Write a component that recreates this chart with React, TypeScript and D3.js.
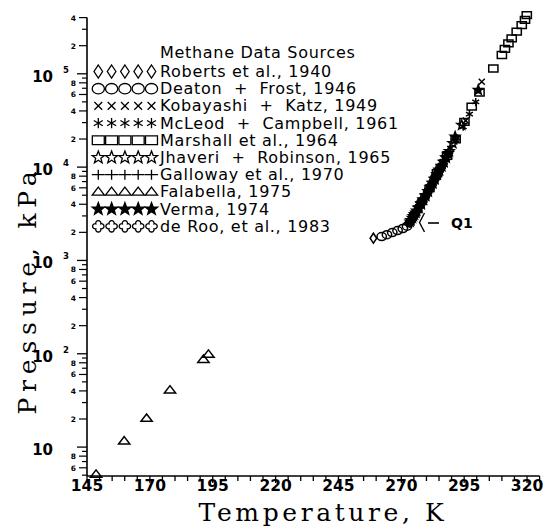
import React from "react";
import * as d3 from "d3";

const W = 549;
const H = 532;

// ---- tick labels ----
const xTickValues = [145, 150, 155, 160, 165, 170, 175, 180, 185, 190, 195, 200, 205, 210, 215, 220, 225, 230, 235, 240, 245, 250, 255, 260, 265, 270, 275, 280, 285, 290, 295, 300, 305, 310, 315, 320, 325];
const xTickLabels = [145, 170, 195, 220, 245, 270, 295, 320];
const yDecades = [10, 100, 1000, 10000, 100000];
const yDecadeExp = ["", "2", "3", "4", "5"];
const yMinorBases = [1, 10, 100, 1000, 10000, 100000];
const yMinorMult = [2, 3, 4, 5, 6, 7, 8, 9];
const yMinorLabeled = [2, 4, 6, 8];

// ---- data: [Temperature K, Pressure kPa] ----
const roberts: [number, number][] = [[258.9, 1730], [273.7, 2620], [277.3, 3850], [280.5, 5450], [283.7, 7900]];
const deaton: [number, number][] = [[262.2, 1800], [264.3, 1890], [266.4, 1990], [268.5, 2090], [270.6, 2200], [272.3, 2330], [275.1, 3100], [278.1, 4250], [281.2, 5950], [283.6, 7800], [285.6, 9900]];
const kobayashi: [number, number][] = [[274.5, 3000], [276.5, 3600], [277.8, 4150], [279.2, 4850], [281.0, 5650], [282.7, 7000], [284.1, 8500], [285.3, 9500], [286.3, 10800], [287.5, 12200], [288.4, 13600], [291.1, 18800], [295.6, 31500], [302.0, 82000]];
const mcleod: [number, number][] = [[274.2, 2950], [276.9, 3800], [278.5, 4500], [280.0, 5300], [282.0, 6600], [283.5, 7700], [285.0, 9000], [286.6, 11600], [288.0, 13400], [289.6, 16000], [292.1, 20500], [294.6, 27000], [297.1, 37000], [299.6, 50000]];
const marshall: [number, number][] = [[284.2, 8600], [288.2, 13200], [291.6, 19800], [295.1, 30500], [298.0, 44400], [301.1, 63000], [306.6, 114000], [310.0, 159000], [311.2, 185000], [312.6, 212000], [313.9, 240000], [315.9, 283000], [317.9, 333000], [319.2, 378000], [319.9, 425000]];
const jhaveri: [number, number][] = [[273.5, 2600], [274.4, 2850], [275.2, 3100], [276.1, 3400], [277.0, 3700], [277.9, 4100], [278.8, 4500], [279.7, 5000], [280.6, 5500], [281.5, 6100], [282.4, 6700], [283.3, 7500], [284.2, 8300], [285.1, 9200], [286.0, 10200], [286.9, 11400], [287.8, 12600], [289.1, 14800], [290.5, 18000], [294.0, 28300]];
const galloway: [number, number][] = [[273.2, 2480], [274.0, 2750], [274.9, 3000], [276.1, 3350], [277.1, 3750], [278.2, 4200], [279.3, 4700], [280.3, 5200], [281.2, 5800], [282.1, 6400], [283.0, 7150], [283.9, 8000], [284.8, 8900], [285.7, 9900], [286.5, 10900], [287.2, 11800], [288.0, 12900], [288.7, 14100]];
const falabella: [number, number][] = [[148.6, 5.1], [159.8, 11.6], [168.7, 20.3], [178.0, 40.8], [191.3, 87], [193.3, 98.6]];
const verma: [number, number][] = [[273.8, 2700], [274.8, 2980], [275.8, 3250], [276.8, 3650], [277.9, 4000], [278.7, 4450], [279.6, 4900], [280.7, 5500], [281.8, 6200], [282.5, 6800], [283.3, 7400], [284.3, 8400], [285.1, 9400], [286.0, 10300], [286.9, 11300], [287.8, 12700], [288.7, 14100], [291.4, 21200], [300.6, 67000]];
const deRoo: [number, number][] = [[273.3, 2540], [273.9, 2700], [274.6, 2850], [275.4, 3100], [276.4, 3400], [277.4, 3850], [278.4, 4300], [279.5, 4850], [280.8, 5600], [281.9, 6350], [283.0, 7200], [284.0, 8150], [285.0, 9200]];

const seriesNames = [
  "Roberts et al., 1940",
  "Deaton  +  Frost, 1946",
  "Kobayashi  +  Katz, 1949",
  "McLeod  +  Campbell, 1961",
  "Marshall et al., 1964",
  "Jhaveri  +  Robinson, 1965",
  "Galloway et al., 1970",
  "Falabella, 1975",
  "Verma, 1974",
  "de Roo, et al., 1983",
];
const seriesKinds = ["diamond", "circle", "x", "asterisk", "square", "star", "plus", "triangle", "fstar", "flower"];
const seriesData = [roberts, deaton, kobayashi, mcleod, marshall, jhaveri, galloway, falabella, verma, deRoo];

function starPath(r: number): string {
  const pts: string[] = [];
  for (let i = 0; i < 10; i++) {
    const rr = i % 2 === 0 ? r : r * 0.42;
    const a = -Math.PI / 2 + (i * Math.PI) / 5;
    pts.push(`${(rr * Math.cos(a)).toFixed(2)},${(rr * Math.sin(a)).toFixed(2)}`);
  }
  return "M" + pts.join("L") + "Z";
}

function flowerPath(s: number): string {
  const d = s * 0.24;
  const r = s * 0.2;
  const t = (d + Math.sqrt(2 * r * r - d * d)) / 2;
  const p = [
    [t, -t],
    [t, t],
    [-t, t],
    [-t, -t],
  ];
  let path = `M${p[0][0]},${p[0][1]}`;
  for (let i = 1; i <= 4; i++) {
    const q = p[i % 4];
    path += `A${r},${r} 0 1 1 ${q[0]},${q[1]}`;
  }
  return path + "Z";
}

function markerPath(kind: string, s: number): string {
  switch (kind) {
    case "diamond": {
      const w = s * 0.33, h = s * 0.5;
      return `M0,${-h}L${w},0L0,${h}L${-w},0Z`;
    }
    case "circle": {
      const rx = s * 0.47, ry = s * 0.4;
      return `M${-rx},0A${rx},${ry} 0 1 0 ${rx},0A${rx},${ry} 0 1 0 ${-rx},0Z`;
    }
    case "x": {
      const a = s * 0.3;
      return `M${-a},${-a}L${a},${a}M${-a},${a}L${a},${-a}`;
    }
    case "asterisk": {
      const a = s * 0.4;
      const c = a * Math.cos(Math.PI / 6), sn = a * Math.sin(Math.PI / 6);
      return `M0,${-a}L0,${a}M${-c},${-sn}L${c},${sn}M${-c},${sn}L${c},${-sn}`;
    }
    case "square": {
      const w = s * 0.46, h = s * 0.34;
      return `M${-w},${-h}H${w}V${h}H${-w}Z`;
    }
    case "star":
    case "fstar":
      return starPath(s * 0.5);
    case "plus": {
      const a = s * 0.5, b = s * 0.38;
      return `M${-a},0H${a}M0,${-b}V${b}`;
    }
    case "triangle": {
      const w = s * 0.47, h = s * 0.62;
      return `M0,${-h * 0.6}L${w},${h * 0.4}L${-w},${h * 0.4}Z`;
    }
    case "flower":
      return flowerPath(s);
  }
  return "";
}

const xScale = d3.scaleLinear().domain([145, 325]).range([87, 539.6]);
const yScale = d3.scaleLog().domain([4.9, 4e5]).range([476, 17.6]);

const tickFont = "'DejaVu Sans', sans-serif";
const titleFont = "'DejaVu Serif', serif";

export default function App() {
  const x0 = xScale.range()[0];
  const x1 = xScale.range()[1];
  const yBottom = yScale.range()[0];
  const yTop = yScale.range()[1];

  const minorTicks: { v: number; m: number }[] = [];
  yMinorBases.forEach((b) =>
    yMinorMult.forEach((m) => {
      const v = b * m;
      if (v >= 4.9 && v <= 4e5) minorTicks.push({ v, m });
    })
  );

  const legX = 98.3;
  const legStep = 13.3;
  const legTextX = 160;
  const legRow0 = 77;
  const legRowStep = 17.2;

  return (
    <svg width={W} height={H} style={{ position: "absolute", left: 0, top: 0, background: "#fff" }}>
      <rect x={0} y={0} width={W} height={H} fill="#fff" />
      {/* axes */}
      <g stroke="#000" strokeWidth={1.6} fill="none">
        <line x1={x0} y1={yTop} x2={x0} y2={yBottom} />
        <line x1={x0} y1={yBottom} x2={x1} y2={yBottom} />
        {xTickValues.map((t) => (
          <line key={"xt" + t} x1={xScale(t)} x2={xScale(t)} y1={yBottom} y2={yBottom + (xTickLabels.includes(t) ? 7 : 5)} strokeWidth={1.3} />
        ))}
        {yDecades.map((v) => (
          <line key={"yd" + v} x1={x0 - 10} x2={x0} y1={yScale(v)} y2={yScale(v)} strokeWidth={1.3} />
        ))}
        {minorTicks.map((t) => (
          <line key={"ym" + t.v} x1={x0 - (yMinorLabeled.includes(t.m) ? 8 : 5)} x2={x0} y1={yScale(t.v)} y2={yScale(t.v)} strokeWidth={1.2} />
        ))}
      </g>
      {/* x tick labels */}
      <g fontFamily={tickFont} fontWeight="bold" fontSize={15.5} textAnchor="middle" fill="#000">
        {xTickLabels.map((t) => (
          <text key={"xl" + t} x={xScale(t)} y={yBottom + 15}>
            {t}
          </text>
        ))}
      </g>
      {/* y tick labels */}
      <g fontFamily={tickFont} fontWeight="bold" fill="#000">
        {yDecades.map((v, i) => (
          <g key={"yl" + v}>
            <text x={53} y={yScale(v) + 8} fontSize={15} textAnchor="end">
              10
            </text>
            {yDecadeExp[i] && (
              <text x={66} y={yScale(v) - 1} fontSize={8.5} textAnchor="middle">
                {yDecadeExp[i]}
              </text>
            )}
          </g>
        ))}
        {minorTicks
          .filter((t) => yMinorLabeled.includes(t.m))
          .map((t) => (
            <text key={"yml" + t.v} x={76} y={yScale(t.v) + 3} fontSize={7.5} textAnchor="end">
              {t.m}
            </text>
          ))}
      </g>
      {/* axis titles */}
      <text x={323} y={521} fontFamily={titleFont} fontSize={25} letterSpacing={3.6} textAnchor="middle" fill="#000">
        Temperature, K
      </text>
      <text
        transform={`translate(36,290) rotate(-90)`}
        fontFamily={titleFont}
        fontSize={25}
        letterSpacing={5.8}
        textAnchor="middle"
        fill="#000"
      >
        Pressure, kPa
      </text>
      {/* data */}
      <g stroke="#000" strokeWidth={1.5} fill="none">
        {seriesData.map((data, si) =>
          data.map((d, i) => (
            <path
              key={`p${si}-${i}`}
              d={markerPath(seriesKinds[si], seriesKinds[si] === "triangle" ? 12 : 10)}
              transform={`translate(${xScale(d[0])},${yScale(d[1])})`}
              fill={seriesKinds[si] === "fstar" ? "#000" : "none"}
            />
          ))
        )}
      </g>
      {/* Q1 annotation */}
      <g fill="#000" fontFamily={tickFont}>
        <path d="M424.5,213 L419.5,222.5 L424.5,232" stroke="#000" strokeWidth={1.4} fill="none" />
        <line x1={428} x2={439} y1={223} y2={223} stroke="#000" strokeWidth={1.6} />
        <text x={451} y={228} fontSize={14} fontWeight="bold">
          Q1
        </text>
      </g>
      {/* legend */}
      <g fontFamily={tickFont} fontSize={16} letterSpacing={0.7} fill="#000" style={{ whiteSpace: "pre" }}>
        <text x={legTextX} y={57.5} xmlSpace="preserve">
          Methane Data Sources
        </text>
        {seriesNames.map((n, i) => (
          <g key={"lg" + i}>
            {[0, 1, 2, 3, 4].map((k) => (
              <path
                key={k}
                d={markerPath(seriesKinds[i], 13)}
                transform={`translate(${legX + k * legStep},${legRow0 + i * legRowStep - 5.5})`}
                stroke="#000"
                strokeWidth={1.3}
                fill={seriesKinds[i] === "fstar" ? "#000" : "none"}
              />
            ))}
            <text x={legTextX} y={legRow0 + i * legRowStep} xmlSpace="preserve">
              {n}
            </text>
          </g>
        ))}
      </g>
    </svg>
  );
}
